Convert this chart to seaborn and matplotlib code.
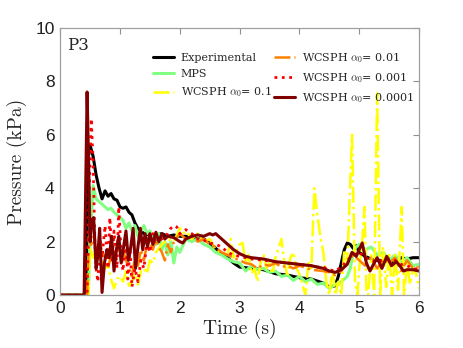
import numpy as np
import pandas as pd
import matplotlib
matplotlib.use('Agg')
from matplotlib import pyplot as plt
import seaborn as sns

# Experimental
t_exp = [0, 0.44, 0.46, 0.5, 0.55, 0.6, 0.65, 0.7, 0.75, 0.8, 0.85, 0.9, 0.95, 1.0, 1.05, 1.1, 1.15,
         1.2, 1.25, 1.3, 1.4, 1.5, 1.6, 1.7, 1.8, 1.9, 2.0, 2.1, 2.2, 2.3, 2.4, 2.5, 2.6, 2.7, 2.8,
         2.9, 3.0, 3.2, 3.4, 3.6, 3.8, 4.0, 4.2, 4.4, 4.5, 4.6, 4.65, 4.7, 4.75, 4.8, 4.85, 4.9,
         4.95, 5.0, 5.1, 5.2, 5.3, 5.4, 5.5, 5.6, 5.7, 5.8, 5.9, 6.0]
p_exp = [0, 0, 5.0, 5.6, 5.2, 4.5, 4.0, 3.6, 3.9, 3.7, 3.8, 3.6, 3.55, 3.3, 3.25, 3.3, 3.1,
         3.0, 2.7, 2.5, 2.3, 2.25, 2.25, 2.3, 2.2, 2.25, 2.2, 2.2, 2.15, 2.1, 2.1, 1.95, 1.75, 1.55, 1.4,
         1.2, 1.05, 1.0, 0.95, 0.8, 0.75, 0.65, 0.6, 0.45, 0.3, 0.35, 0.7, 1.2, 1.7, 1.95, 1.9, 1.75,
         1.85, 1.6, 1.45, 1.35, 1.3, 1.3, 1.35, 1.2, 1.4, 1.35, 1.4, 1.4]

# MPS
t_mps = [0, 0.47, 0.5, 0.55, 0.6, 0.65, 0.7, 0.75, 0.8, 0.85, 0.9, 0.95, 1.0, 1.05, 1.1, 1.15, 1.2,
         1.25, 1.3, 1.35, 1.4, 1.45, 1.5, 1.55, 1.6, 1.65, 1.7, 1.75, 1.8, 1.85, 1.9, 1.95, 2.0, 2.1,
         2.2, 2.3, 2.4, 2.5, 2.6, 2.7, 2.8, 2.9, 3.0, 3.1, 3.2, 3.3, 3.4, 3.5, 3.6, 3.7, 3.8, 3.9,
         4.0, 4.1, 4.2, 4.3, 4.4, 4.5, 4.6, 4.7, 4.8, 4.85, 4.9, 4.95, 5.0, 5.1, 5.2, 5.3, 5.4, 5.5,
         5.6, 5.7, 5.8, 5.9, 6.0]
p_mps = [0, 0, 2.0, 4.1, 3.6, 3.5, 3.4, 3.3, 3.2, 3.25, 3.1, 3.0, 2.9, 2.8, 2.5, 2.7, 2.4,
         2.6, 2.2, 2.4, 2.6, 2.3, 2.4, 2.1, 1.9, 2.3, 1.7, 2.0, 1.5, 2.0, 1.2, 1.8, 1.6, 2.1,
         2.0, 2.1, 1.9, 1.8, 1.6, 1.5, 1.35, 1.25, 1.2, 0.9, 1.1, 0.95, 1.0, 0.85, 0.9, 0.7, 0.75, 0.55,
         0.7, 0.5, 0.6, 0.4, 0.45, 0.25, 0.4, 0.5, 0.7, 1.0, 1.6, 1.8, 1.9, 1.7, 1.8, 1.5, 1.6, 1.3,
         1.5, 1.2, 1.4, 1.1, 1.15]

# WCSPH alpha0 = 0.1
t_a1 = [0, 0.47, 0.5, 0.55, 0.6, 0.65, 0.7, 0.75, 0.8, 0.85, 0.9, 0.95, 1.0, 1.05, 1.1, 1.15, 1.2,
        1.25, 1.3, 1.35, 1.4, 1.45, 1.5, 1.55, 1.6, 1.7, 1.8, 1.9, 2.0, 2.05, 2.1, 2.2, 2.3, 2.4,
        2.5, 2.6, 2.7, 2.8, 2.85, 2.9, 3.0, 3.05, 3.1, 3.15, 3.2, 3.25, 3.3, 3.35, 3.4, 3.45, 3.5,
        3.55, 3.6, 3.7, 3.75, 3.8, 3.85, 3.9, 3.95, 4.0, 4.05, 4.1, 4.15, 4.2, 4.25, 4.3, 4.35, 4.4,
        4.45, 4.5, 4.55, 4.6, 4.65, 4.7, 4.75, 4.8, 4.88, 4.93, 4.97, 5.0, 5.05, 5.09, 5.12, 5.15,
        5.2, 5.25, 5.3, 5.35, 5.4, 5.45, 5.5, 5.55, 5.6, 5.65, 5.71, 5.75, 5.8, 5.85, 5.9, 5.95, 6.0]
p_a1 = [0, 0, 1.8, 1.4, 1.6, 1.2, 1.25, 1.0, 1.1, 0.6, 0.25, 0.6, 0.7, 0.5, 0.9, 0.35, 0.5,
        0.8, 0.4, 0.9, 1.0, 0.8, 1.3, 1.2, 1.6, 1.9, 2.1, 2.0, 2.5, 2.3, 2.4, 2.1, 2.3, 2.0,
        2.1, 1.7, 1.6, 1.5, 2.1, 1.4, 1.9, 1.95, 1.2, 1.5, 0.8, 1.0, 0.5, 1.2, 1.5, 1.0, 1.2,
        0.8, 1.4, 2.1, 1.2, 0.7, 1.4, 1.6, 1.0, 0.8, 0.4, 0.0, 1.2, 1.0, 4.0, 3.0, 2.2, 1.6,
        0.5, 0.0, 1.0, 0.0, 0.5, 0.0, 1.7, 1.2, 6.0, 0.5, 0.0, 1.0, 2.0, 3.3, 0.2, 0.0,
        1.5, 0.0, 7.55, 0.0, 1.8, 0.3, 1.6, 0.0, 1.5, 0.2, 3.3, 0.0, 1.2, 0.4, 1.0, 0.8, 0.25]

# WCSPH alpha0 = 0.01
t_a2 = [0, 0.45, 0.48, 0.52, 0.56, 0.6, 0.65, 0.7, 0.75, 0.8, 0.85, 0.9, 0.95, 1.0, 1.05, 1.1, 1.15,
        1.2, 1.25, 1.3, 1.35, 1.4, 1.45, 1.5, 1.55, 1.6, 1.65, 1.7, 1.75, 1.8, 1.85, 1.9, 2.0, 2.1,
        2.2, 2.3, 2.4, 2.5, 2.6, 2.7, 2.8, 2.9, 3.0, 3.1, 3.2, 3.3, 3.4, 3.5, 3.6, 3.7, 3.8, 3.9,
        4.0, 4.2, 4.4, 4.5, 4.6, 4.7, 4.8, 4.9, 5.0, 5.1, 5.2, 5.3, 5.4, 5.5, 5.6, 5.7, 5.8, 5.9, 6.0]
p_a2 = [0, 0, 2.2, 1.8, 2.2, 1.7, 1.3, 1.6, 1.4, 1.0, 1.5, 1.2, 1.8, 1.5, 1.7, 1.3, 1.0,
        0.7, 1.4, 1.1, 1.7, 1.3, 1.9, 2.0, 1.7, 2.1, 1.8, 1.6, 1.3, 1.9, 1.6, 2.0, 2.3, 2.1,
        2.2, 2.0, 2.1, 1.9, 1.8, 1.6, 1.5, 1.4, 1.3, 1.2, 1.15, 1.0, 1.15, 1.1, 1.2, 1.05, 1.1, 1.0,
        1.1, 0.95, 0.9, 0.85, 0.75, 0.9, 1.2, 1.5, 1.3, 1.1, 1.4, 1.0, 1.3, 1.2, 1.4, 0.9, 1.3, 1.0, 1.05]

# WCSPH alpha0 = 0.001
t_a3 = [0, 0.45, 0.48, 0.52, 0.55, 0.58, 0.6, 0.63, 0.67, 0.7, 0.75, 0.8, 0.83, 0.87, 0.9, 0.95,
        0.98, 1.02, 1.05, 1.1, 1.13, 1.17, 1.2, 1.25, 1.3, 1.35, 1.4, 1.45, 1.5, 1.55, 1.6, 1.7,
        1.8, 1.85, 1.9, 1.95, 2.0, 2.1, 2.2, 2.3, 2.4, 2.5, 2.6, 2.7, 2.8, 2.9, 3.0, 3.2, 3.4,
        3.6, 3.8, 4.0, 4.2, 4.3, 4.4, 4.5, 4.6, 4.7, 4.8, 4.9, 5.0, 5.1, 5.2, 5.3, 5.4, 5.5, 5.6,
        5.7, 5.8, 5.9, 6.0]
p_a3 = [0, 0, 3.5, 6.6, 5.0, 2.0, 1.0, 0.5, 2.0, 1.4, 2.6, 1.0, 2.9, 1.3, 2.4, 1.0,
        3.3, 1.5, 0.9, 2.2, 0.6, 1.8, 0.3, 1.0, 0.5, 1.3, 1.0, 2.0, 1.6, 2.3, 2.0, 2.1,
        2.3, 2.5, 2.6, 2.55, 2.3, 2.45, 2.3, 2.1, 2.05, 1.95, 1.9, 1.8, 1.6, 1.5, 1.45, 1.35, 1.3,
        1.25, 1.2, 1.15, 1.1, 1.05, 1.05, 0.95, 0.9, 1.05, 1.3, 1.5, 1.6, 1.4, 1.3, 1.25, 1.3, 1.35, 1.3,
        1.15, 1.1, 1.0, 0.95]

# WCSPH alpha0 = 0.0001
t_a4 = [0, 0.4, 0.45, 0.48, 0.5, 0.53, 0.56, 0.6, 0.63, 0.66, 0.7, 0.74, 0.78, 0.82, 0.86, 0.9,
        0.94, 0.98, 1.02, 1.06, 1.1, 1.14, 1.18, 1.22, 1.26, 1.3, 1.34, 1.38, 1.42, 1.46, 1.5,
        1.55, 1.6, 1.65, 1.7, 1.75, 1.8, 1.9, 2.0, 2.05, 2.1, 2.2, 2.3, 2.4, 2.5, 2.55, 2.6, 2.65,
        2.7, 2.8, 2.9, 3.0, 3.1, 3.2, 3.4, 3.6, 3.8, 4.0, 4.2, 4.4, 4.5, 4.6, 4.7, 4.8, 4.88,
        4.95, 5.05, 5.12, 5.18, 5.25, 5.3, 5.38, 5.46, 5.54, 5.62, 5.68, 5.74, 5.8, 5.9, 6.0]
p_a4 = [0, 0, 7.6, 4.5, 2.0, 2.8, 2.9, 1.0, 1.5, 2.5, 0.1, 1.2, 1.7, 1.4, 2.2, 0.9,
        1.7, 2.2, 1.2, 1.8, 2.4, 1.3, 1.8, 2.5, 1.0, 1.8, 2.5, 1.7, 2.3, 1.8, 2.3,
        1.9, 2.35, 2.0, 2.3, 2.1, 2.2, 2.15, 2.0, 1.95, 2.1, 2.2, 2.25, 2.2, 2.3, 2.25, 2.3, 2.2,
        2.1, 1.9, 1.7, 1.55, 1.45, 1.4, 1.35, 1.25, 1.2, 1.15, 1.1, 1.0, 0.9, 0.85, 0.95, 1.15, 1.6,
        1.45, 1.95, 1.2, 0.9, 1.2, 1.4, 1.0, 1.45, 1.1, 1.25, 1.1, 0.9, 0.95, 0.95, 0.9]

series = [
    (t_exp, p_exp, 'Experimental', 'black', '-', 2.2),
    (t_mps, p_mps, 'MPS', '#80ff80', '-', 2.2),
    (t_a1, p_a1, r'WCSPH $\alpha_0$= 0.1', '#ffff00', '-.', 1.8),
    (t_a2, p_a2, r'WCSPH $\alpha_0$= 0.01', '#ff8000', '-.', 1.8),
    (t_a3, p_a3, r'WCSPH $\alpha_0$= 0.001', '#ff0000', ':', 2.0),
    (t_a4, p_a4, r'WCSPH $\alpha_0$= 0.0001', '#800000', '-', 2.2),
]

sns.set_style('white')
plt.rcParams['mathtext.fontset'] = 'cm'
plt.rcParams['font.family'] = ['Liberation Sans', 'DejaVu Sans']

fig = plt.figure(figsize=(4.63, 3.48), dpi=100)
ax = fig.add_axes([0.130, 0.152, 0.775, 0.768])

for t, p, name, col, ls, lw in series:
    df = pd.DataFrame({'t': t, 'p': p})
    sns.lineplot(data=df, x='t', y='p', ax=ax, color=col, linestyle=ls, lw=lw,
                 label=name, estimator=None, sort=False)

ax.set_xlim(0, 6)
ax.set_ylim(0, 10)
ax.set_xticks([0, 1, 2, 3, 4, 5, 6])
ax.set_yticks([0, 2, 4, 6, 8, 10])
ax.tick_params(direction='in', top=True, right=True, length=4, width=0.8,
               color='#909090', labelsize=12.5, labelcolor='#202020', pad=4)
for s in ax.spines.values():
    s.set_color('#a0a0a0')
    s.set_linewidth(0.9)

ax.set_xlabel('Time (s)', family='cmr10', fontsize=14, labelpad=2)
ax.set_ylabel('Pressure (kPa)', family='cmr10', fontsize=14, labelpad=6)
ax.text(0.02, 0.965, 'P3', transform=ax.transAxes, family='DejaVu Serif',
        fontsize=12, va='top', ha='left')

ax.legend(loc='upper right', bbox_to_anchor=(1.015, 0.95), ncol=2, frameon=False,
          prop={'family': 'DejaVu Serif', 'size': 8}, handlelength=1.9,
          handletextpad=0.6, columnspacing=0.25, labelspacing=0.55)

fig.savefig('out.png', dpi=100)
